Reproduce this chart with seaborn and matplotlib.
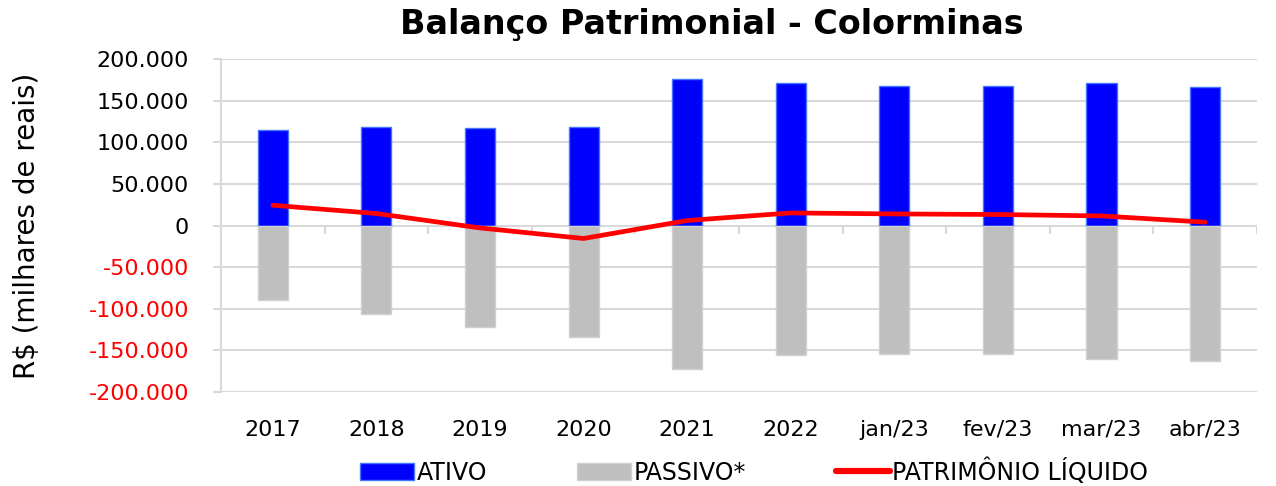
import numpy as np
import pandas as pd
import seaborn as sns
from matplotlib import pyplot as plt
from matplotlib.ticker import FuncFormatter
from matplotlib.patches import Patch
from matplotlib.lines import Line2D

sns.set_theme(style="white")
plt.rcParams['font.family'] = ['DejaVu Sans']
plt.rcParams['text.color'] = 'black'
plt.rcParams['axes.labelcolor'] = 'black'
plt.rcParams['xtick.color'] = 'black'
plt.rcParams['ytick.color'] = 'black'

# values in R$ thousands
periods = ['2017', '2018', '2019', '2020', '2021', '2022',
           'jan/23', 'fev/23', 'mar/23', 'abr/23']
ativo = [114300, 118700, 117000, 118700, 176300, 170600, 167900, 167400, 171500, 166200]
passivo = [-89700, -106500, -121700, -134500, -172300, -155500, -154300, -154800, -160800, -162300]
pl = [24300, 14400, -2900, -15600, 6000, 15100, 13900, 13200, 11500, 4000]

df = pd.DataFrame({'periodo': periods, 'ativo': ativo, 'passivo': passivo, 'pl': pl})

grid_c = '#d9d9d9'

fig = plt.figure(figsize=(12.76, 4.86), dpi=100)
ax = fig.add_axes([0.1732, 0.1934, 0.985 - 0.1732, 0.8786 - 0.1934])

sns.barplot(data=df, x='periodo', y='ativo', color='#0000ff', saturation=1,
            width=0.29, edgecolor='#4477ff', linewidth=1, ax=ax, zorder=2)
sns.barplot(data=df, x='periodo', y='passivo', color='#bfbfbf', saturation=1,
            width=0.29, edgecolor='#d0d0d0', linewidth=1, ax=ax, zorder=2)
ax.plot(np.arange(len(periods)), df['pl'], color='#ff0000', lw=3.4,
        solid_capstyle='round', solid_joinstyle='round', zorder=4)

ax.set_xlim(-0.5, len(periods) - 0.5)
ax.set_ylim(-200000, 200000)
ax.set_yticks(np.arange(-200000, 200001, 50000))
ax.yaxis.set_major_formatter(FuncFormatter(lambda v, p: f"{v:,.0f}".replace(',', '.')))
ax.yaxis.grid(True, color=grid_c, lw=1.5, zorder=0)
ax.set_axisbelow(True)

# small category separator ticks on the zero line
ax.vlines(np.arange(-0.5, len(periods)), -10500, 0, color=grid_c, lw=1.5, zorder=1)

for s in ['top', 'right', 'bottom']:
    ax.spines[s].set_visible(False)
ax.spines['left'].set_color(grid_c)
ax.spines['left'].set_linewidth(1.5)

ax.tick_params(axis='y', length=6, width=1.5, color=grid_c, pad=17, labelsize=16, left=True)
ax.tick_params(axis='x', length=0, pad=20, labelsize=16)
for lbl, v in zip(ax.get_yticklabels(), ax.get_yticks()):
    lbl.set_color('#ff0000' if v < 0 else 'black')

ax.set_xlabel('')
ax.set_ylabel('R$ (milhares de reais)', fontsize=20, labelpad=34)

fig.suptitle('Balanço Patrimonial - Colorminas', x=0.558, y=0.949, va='center',
             fontsize=24, fontweight='bold')

handles = [Patch(facecolor='#0000ff', edgecolor='#4477ff'),
           Patch(facecolor='#bfbfbf', edgecolor='#d0d0d0'),
           Line2D([0], [0], color='#ff0000', lw=4.5)]
fig.legend(handles, ['ATIVO', 'PASSIVO*', 'PATRIMÔNIO LÍQUIDO'], loc='center',
           bbox_to_anchor=(0.591, 0.03), ncol=3, frameon=False, fontsize=17,
           handlelength=2.3, handletextpad=0.1, columnspacing=3.8)

plt.savefig('out.png', dpi=100)
